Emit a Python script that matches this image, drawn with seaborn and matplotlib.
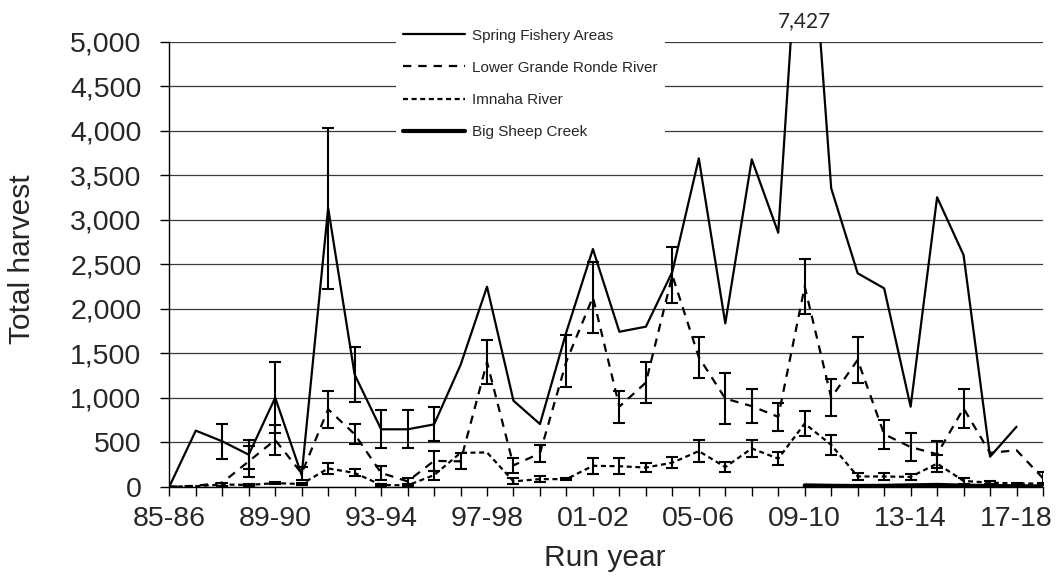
import numpy as np
import pandas as pd
import matplotlib
matplotlib.use("Agg")
import matplotlib.pyplot as plt
import seaborn as sns
from matplotlib.ticker import FuncFormatter

nan = np.nan

run_years = ["85-86", "86-87", "87-88", "88-89", "89-90", "90-91", "91-92", "92-93",
             "93-94", "94-95", "95-96", "96-97", "97-98", "98-99", "99-00", "00-01",
             "01-02", "02-03", "03-04", "04-05", "05-06", "06-07", "07-08", "08-09",
             "09-10", "10-11", "11-12", "12-13", "13-14", "14-15", "15-16", "16-17",
             "17-18", "18-19"]

spring = [0, 630, 510, 360, 1000, 130, 3130, 1260, 645, 645, 700, 1367, 2247, 966,
          704, 1741, 2670, 1741, 1798, 2415, 3689, 1835, 3678, 2854, 7427, 3353,
          2398, 2229, 899, 3252, 2603, 337, 674, nan]
spring_err = [nan, nan, 200, 160, 400, nan, 905, 310, 215, 215, 190, nan, nan, nan,
              nan, nan, nan, nan, nan, nan, nan, nan, nan, nan, nan, nan, nan, nan,
              nan, nan, nan, nan, nan, nan]

lower_grande_ronde = [0, 10, 45, 285, 525, 150, 870, 590, 155, 60, 290, 285, 1400, 240,
                      375, 1410, 2130, 900, 1170, 2375, 1455, 990, 905, 785, 2250, 1000,
                      1425, 590, 445, 365, 880, 380, 410, 95]
lower_grande_ronde_err = [nan, nan, nan, 172, 168, 75, 210, 110, 75, 35, 110, 90, 250, 85,
                          95, 290, 400, 180, 235, 315, 230, 290, 190, 160, 305, 210,
                          260, 165, 155, 150, 220, nan, nan, 75]

imnaha = [0, 5, 25, 20, 40, 30, 205, 155, 20, 15, 130, 380, 385, 60, 85, 85, 235, 230,
          215, 270, 400, 220, 430, 315, 710, 470, 115, 115, 110, 260, 65, 45, 37, 35]
imnaha_err = [nan, nan, 12, 10, 15, 15, 65, 40, 10, 10, 50, nan, nan, 35, 30, 15, 90, 90,
              55, 60, 120, 60, 100, 70, 140, 110, 40, 40, 35, 95, 30, 15, 10, 10]

big_sheep = [nan] * 24 + [15, 10, 8, 10, 15, 20, 12, 8, 5, 3]

series_names = ["Spring Fishery Areas", "Lower Grande Ronde River", "Imnaha River",
                "Big Sheep Creek"]

sns.set_theme(style="white")
plt.rcParams["font.family"] = ["Liberation Sans", "DejaVu Sans"]
plt.rcParams["lines.scale_dashes"] = False

x = np.arange(len(run_years))
df = pd.DataFrame({
    "x": x,
    "spring": spring, "spring_err": spring_err,
    "lgr": lower_grande_ronde, "lgr_err": lower_grande_ronde_err,
    "imn": imnaha, "imn_err": imnaha_err,
    "bsc": big_sheep,
})

W, H = 1057, 577
fig = plt.figure(figsize=(W / 100, H / 100), dpi=100)
left, right, top, bottom = 169.3, 1043.0, 41.7, 486.7
ax = fig.add_axes([left / W, 1 - bottom / H, (right - left) / W, (bottom - top) / H])

line_specs = [
    ("spring", "spring_err", series_names[0], 1.6, "-"),
    ("lgr", "lgr_err", series_names[1], 1.6, (0, (6.0, 5.0))),
    ("imn", "imn_err", series_names[2], 1.6, (0, (3.6, 2.6))),
    ("bsc", None, series_names[3], 3.0, "-"),
]

for col, err_col, name, lw, ls in line_specs:
    sub = df[["x", col]].dropna()
    sns.lineplot(data=sub, x="x", y=col, ax=ax, color="black", linewidth=lw,
                 linestyle=ls, label=name, estimator=None, sort=True, zorder=3)
    if err_col is not None:
        eb = df[["x", col, err_col]].dropna()
        ax.errorbar(eb["x"], eb[col], yerr=eb[err_col], fmt="none", ecolor="black",
                    elinewidth=1.5, capsize=4.5, capthick=1.5, zorder=4)

ax.set_xlim(0, len(run_years) - 1)
ax.set_ylim(0, 5000)
ax.set_yticks(np.arange(0, 5001, 500))
ax.yaxis.set_major_formatter(FuncFormatter(lambda v, p: f"{v:,.0f}"))
ax.set_xticks(x, labels=[lab if i % 4 == 0 else "" for i, lab in enumerate(run_years)])

ax.yaxis.grid(True, color="#3a3a3a", linewidth=0.9)
ax.xaxis.grid(False)
ax.set_axisbelow(True)

for side in ["top", "right"]:
    ax.spines[side].set_visible(False)
for side in ["left", "bottom"]:
    ax.spines[side].set_color("black")
    ax.spines[side].set_linewidth(1.0)

ax.tick_params(axis="x", direction="out", length=6.2, width=1, color="black",
               labelsize=20.5, pad=8, bottom=True)
ax.tick_params(axis="y", direction="out", length=6.5, width=1, color="black",
               labelsize=20.5, pad=13.5, left=True)
ax.set_xlabel("")
ax.set_ylabel("")

# peak value printed above the clipped Spring Fishery Areas line
peak_idx = int(np.nanargmax(spring))
ax.annotate(f"{spring[peak_idx]:,.0f}", xy=(peak_idx, 5000), xytext=(0, 10.5),
            textcoords="offset points", ha="center", va="baseline",
            fontsize=15, family=["Lato", "DejaVu Sans"], annotation_clip=False)

fig.text(22.5 / W, 1 - 259 / H, "Total harvest", rotation=90, ha="center", va="center",
         fontsize=21.5)
fig.text(605 / W, 1 - 566 / H, "Run year", ha="center", va="baseline", fontsize=21.5)

leg = ax.legend(loc="upper left", bbox_to_anchor=(388 / W, 1 - 14 / H),
                bbox_transform=fig.transFigure, frameon=True, facecolor="white",
                edgecolor="none", framealpha=1, fancybox=False, fontsize=11,
                handlelength=4.1, handletextpad=0.45, labelspacing=1.19, borderpad=0.45)
leg.set_zorder(6)

fig.savefig("out.png", dpi=100)
